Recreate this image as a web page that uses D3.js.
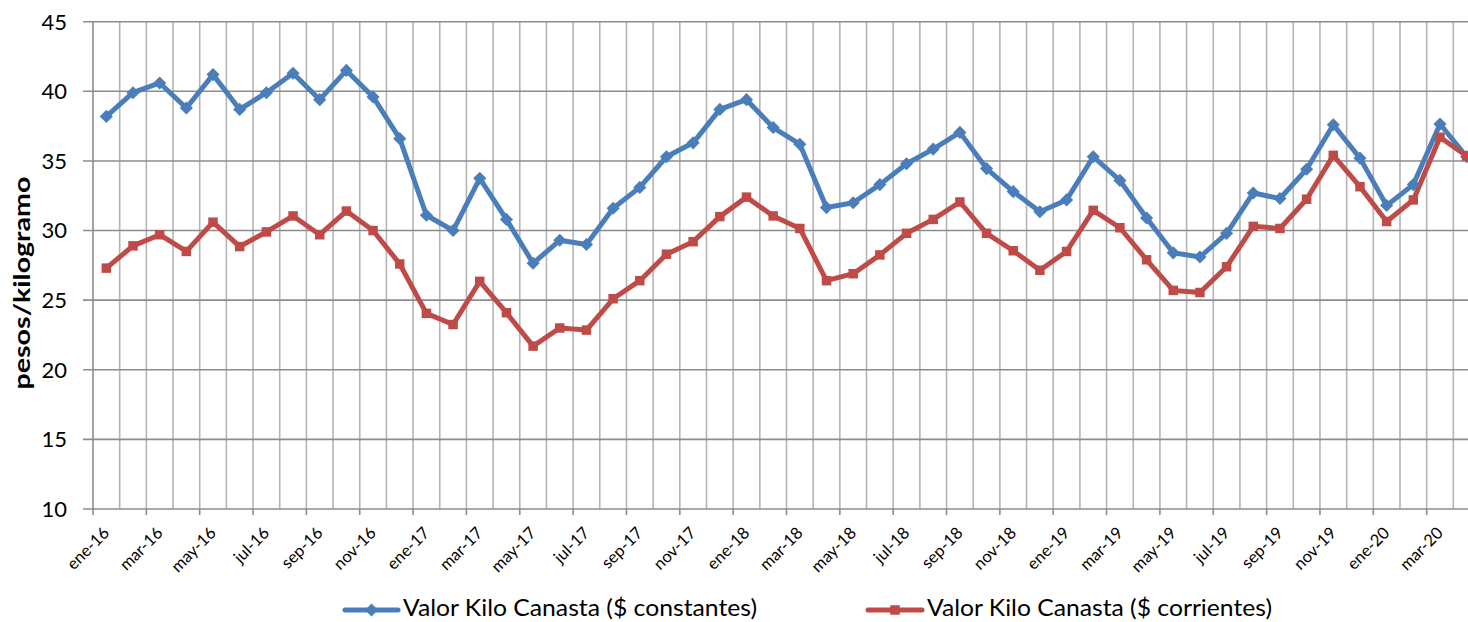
<!DOCTYPE html>
<html>
<head>
<meta charset="utf-8">
<script src="https://cdn.jsdelivr.net/npm/d3@7"></script>
<style>
  html, body { margin: 0; padding: 0; background: #fff; }
  svg { display: block; font-family: Lato, "Open Sans", sans-serif; }
</style>
</head>
<body>
<div id="chart"></div>
<script>
// months ene-16 .. abr-20
const months = [
  'ene-16','feb-16','mar-16','abr-16','may-16','jun-16','jul-16','ago-16','sep-16','oct-16','nov-16','dic-16',
  'ene-17','feb-17','mar-17','abr-17','may-17','jun-17','jul-17','ago-17','sep-17','oct-17','nov-17','dic-17',
  'ene-18','feb-18','mar-18','abr-18','may-18','jun-18','jul-18','ago-18','sep-18','oct-18','nov-18','dic-18',
  'ene-19','feb-19','mar-19','abr-19','may-19','jun-19','jul-19','ago-19','sep-19','oct-19','nov-19','dic-19',
  'ene-20','feb-20','mar-20','abr-20'
];

const constantes = [
  38.2, 39.9, 40.6, 38.8, 41.2, 38.7, 39.9, 41.3, 39.4, 41.5, 39.6, 36.6,
  31.1, 30.0, 33.75, 30.8, 27.65, 29.3, 29.0, 31.6, 33.1, 35.3, 36.3, 38.7,
  39.4, 37.4, 36.2, 31.65, 32.0, 33.3, 34.8, 35.85, 37.05, 34.45, 32.8, 31.35,
  32.2, 35.3, 33.6, 30.9, 28.4, 28.1, 29.8, 32.7, 32.3, 34.4, 37.6, 35.2,
  31.8, 33.3, 37.65, 35.3
];

const corrientes = [
  27.3, 28.9, 29.7, 28.5, 30.6, 28.85, 29.9, 31.05, 29.7, 31.4, 30.0, 27.6,
  24.05, 23.25, 26.35, 24.1, 21.7, 23.0, 22.85, 25.1, 26.4, 28.3, 29.2, 31.0,
  32.4, 31.05, 30.15, 26.4, 26.9, 28.25, 29.8, 30.8, 32.05, 29.8, 28.55, 27.15,
  28.5, 31.45, 30.2, 27.9, 25.7, 25.55, 27.4, 30.3, 30.15, 32.25, 35.4, 33.15,
  30.65, 32.2, 36.7, 35.35
];

const yTicks = [10, 15, 20, 25, 30, 35, 40, 45];
const seriesNames = ['Valor Kilo Canasta ($ constantes)', 'Valor Kilo Canasta ($ corrientes)'];
const seriesColors = ['#4A7EBB', '#BE4B48'];

const W = 1468, H = 622;
// plot area; the right edge lies just past the visible width, as in the original
const plotArea = { left: 93, right: 1480, top: 21.7, bottom: 509 };

const svg = d3.select('#chart').append('svg')
  .attr('width', W)
  .attr('height', H);

const x = d3.scaleBand()
  .domain(months)
  .range([plotArea.left, plotArea.right])
  .padding(0);

const y = d3.scaleLinear()
  .domain([10, 45])
  .range([plotArea.bottom, plotArea.top]);

const cx = m => x(m) + x.bandwidth() / 2;

// vertical gridlines at category boundaries
svg.append('g')
  .selectAll('line')
  .data(months.slice(1))
  .join('line')
  .attr('x1', d => x(d)).attr('x2', d => x(d))
  .attr('y1', plotArea.top).attr('y2', plotArea.bottom)
  .attr('stroke', '#B4B4B4')
  .attr('stroke-width', 1.6);

// horizontal gridlines
svg.append('g')
  .selectAll('line')
  .data(yTicks)
  .join('line')
  .attr('x1', plotArea.left - 10).attr('x2', plotArea.right)
  .attr('y1', d => y(d)).attr('y2', d => y(d))
  .attr('stroke', '#8C8C8C')
  .attr('stroke-width', 1.6);

// y axis line
svg.append('line')
  .attr('x1', plotArea.left).attr('x2', plotArea.left)
  .attr('y1', plotArea.top).attr('y2', plotArea.bottom)
  .attr('stroke', '#8C8C8C')
  .attr('stroke-width', 1.6);

// y tick labels
svg.append('g')
  .selectAll('text')
  .data(yTicks)
  .join('text')
  .attr('x', 67)
  .attr('y', d => y(d))
  .attr('dy', '0.36em')
  .attr('text-anchor', 'end')
  .attr('font-size', 22)
  .attr('fill', '#000')
  .text(d => d);

// x tick marks every 2 months
const labelled = months.filter((_, i) => i % 2 === 0);
svg.append('g')
  .selectAll('line')
  .data(labelled)
  .join('line')
  .attr('x1', d => x(d)).attr('x2', d => x(d))
  .attr('y1', plotArea.bottom).attr('y2', plotArea.bottom + 6)
  .attr('stroke', '#8C8C8C')
  .attr('stroke-width', 1.6);

svg.append('g')
  .selectAll('text')
  .data(labelled)
  .join('text')
  .attr('transform', d => `translate(${cx(d) + 4},${plotArea.bottom + 25}) rotate(-45)`)
  .attr('text-anchor', 'end')
  .attr('font-size', 16.5)
  .attr('fill', '#000')
  .text(d => d);

// y title
svg.append('text')
  .attr('transform', `translate(30,283) rotate(-90)`)
  .attr('text-anchor', 'middle')
  .attr('font-size', 23)
  .attr('font-weight', 'bold')
  .attr('textLength', 213)
  .attr('lengthAdjust', 'spacingAndGlyphs')
  .text('pesos/kilogramo');

// lines + markers
const line = d3.line()
  .x((d, i) => cx(months[i]))
  .y(d => y(d));

const plot = svg.append('g');

[constantes, corrientes].forEach((vals, k) => {
  plot.append('path')
    .datum(vals)
    .attr('fill', 'none')
    .attr('stroke', seriesColors[k])
    .attr('stroke-width', 5)
    .attr('stroke-linejoin', 'round')
    .attr('d', line);
});

const diamond = d3.symbol().type(d3.symbolDiamond2).size(110);
const square = d3.symbol().type(d3.symbolSquare).size(90);

plot.append('g')
  .selectAll('path')
  .data(constantes)
  .join('path')
  .attr('transform', (d, i) => `translate(${cx(months[i])},${y(d)})`)
  .attr('d', diamond)
  .attr('fill', seriesColors[0]);

plot.append('g')
  .selectAll('path')
  .data(corrientes)
  .join('path')
  .attr('transform', (d, i) => `translate(${cx(months[i])},${y(d)})`)
  .attr('d', square)
  .attr('fill', seriesColors[1]);

// legend
const legendItems = [
  { x0: 345, x1: 398, tx: 403, len: 354, sym: diamond },
  { x0: 868, x1: 922, tx: 927, len: 345, sym: square }
];
const legend = svg.append('g');
legendItems.forEach((it, k) => {
  const ly = 610;
  legend.append('line')
    .attr('x1', it.x0).attr('x2', it.x1)
    .attr('y1', ly).attr('y2', ly)
    .attr('stroke', seriesColors[k])
    .attr('stroke-width', 5)
    .attr('stroke-linecap', 'round');
  legend.append('path')
    .attr('transform', `translate(${(it.x0 + it.x1) / 2},${ly})`)
    .attr('d', it.sym)
    .attr('fill', seriesColors[k]);
  legend.append('text')
    .attr('x', it.tx)
    .attr('y', 616)
    .attr('font-size', 23)
    .attr('textLength', it.len)
    .attr('lengthAdjust', 'spacingAndGlyphs')
    .attr('fill', '#000')
    .text(seriesNames[k]);
});
</script>
</body>
</html>
